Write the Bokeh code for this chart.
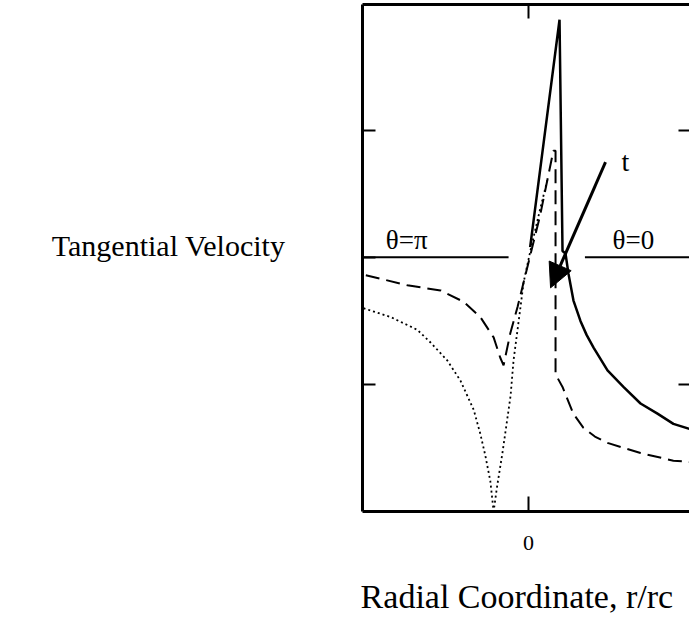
import numpy as np
from bokeh.plotting import figure
from bokeh.models import Range1d, LinearAxis, FixedTicker, Label, Arrow, NormalHead
from bokeh.embed import file_html
from bokeh.resources import INLINE

# ---- data ----
solid_x = [0.01, 0.187, 0.205, 0.223, 0.241, 0.271, 0.313, 0.35, 0.392, 0.476, 0.572, 0.675, 0.777, 0.873, 0.97]
solid_y = [0.08, 1.87, 0.05, 0.03, -0.13, -0.34, -0.50, -0.61, -0.71, -0.89, -1.02, -1.15, -1.23, -1.31, -1.35]

dash_x = [-0.98, -0.73, -0.53, -0.39, -0.29, -0.21, -0.17, -0.15, -0.11, -0.066, -0.03,
          0.07, 0.15, 0.163, 0.163, 0.205, 0.27, 0.33, 0.40, 0.476, 0.675, 0.873, 0.97]
dash_y = [-0.14, -0.22, -0.26, -0.35, -0.47, -0.63, -0.79, -0.85, -0.60, -0.39, -0.20,
          0.33, 0.84, 0.84, -0.92, -1.02, -1.23, -1.34, -1.41, -1.46, -1.54, -1.60, -1.61]

dot_x = [-0.994, -0.83, -0.67, -0.59, -0.49, -0.41, -0.33, -0.29, -0.26, -0.23, -0.21,
         -0.19, -0.157, -0.133, -0.108, -0.09, -0.066, -0.048, -0.03, 0.012, 0.072, 0.114]
dot_y = [-0.40, -0.47, -0.57, -0.67, -0.81, -0.97, -1.20, -1.39, -1.56, -1.76, -2.0,
         -1.81, -1.54, -1.32, -1.09, -0.81, -0.57, -0.39, -0.20, 0.055, 0.39, 0.61]

zero_x = [-1.0, -0.12, np.nan, 0.34, 0.97]
zero_y = [0.0, 0.0, np.nan, 0.0, 0.0]

x_ticks = [0]
x_tick_labels = {0: "0"}
y_ticks = [-1, 0, 1]
x_title = "Radial Coordinate, r/rc"
y_title = "Tangential Velocity"
x_title_pos = -0.07
y_title_pos = 0.09

FONT = "Liberation Serif"

p = figure(width=689, height=617, output_backend="svg", toolbar_location=None,
           x_range=Range1d(-1.0, 0.97), y_range=Range1d(-2.0, 1.99),
           x_axis_location=None, y_axis_location=None,
           min_border_left=362, min_border_right=0, min_border_top=4, min_border_bottom=106)
p.outline_line_color = None
p.grid.visible = False
p.background_fill_color = "white"

def mk_axis(ticks, tick_in, labels=None, size="22px", standoff=0, line=True):
    ax = LinearAxis(ticker=FixedTicker(ticks=ticks))
    ax.major_tick_in = tick_in
    ax.major_tick_out = 0
    ax.minor_tick_in = 0
    ax.minor_tick_out = 0
    ax.major_tick_line_width = 2
    ax.major_tick_line_color = "black" if tick_in > 0 else None
    ax.axis_line_width = 3
    ax.axis_line_color = "black" if line else None
    if labels is not None:
        ax.major_label_text_font = FONT
        ax.major_label_text_font_size = size
        ax.major_label_text_color = "black"
        ax.major_label_standoff = standoff
        ax.major_label_overrides = labels
    else:
        ax.major_label_text_font_size = "0px"
        ax.major_label_standoff = 0
        ax.major_label_overrides = {t: "" for t in ticks}
    return ax

p.add_layout(mk_axis(x_ticks, 15, labels=x_tick_labels, size="22px", standoff=24), "below")
p.add_layout(mk_axis([x_title_pos], 0, labels={x_title_pos: x_title}, size="34px",
                     standoff=25, line=False), "below")
p.add_layout(mk_axis(x_ticks, 14), "above")
p.add_layout(mk_axis(y_ticks, 13), "left")
yt = mk_axis([y_title_pos], 0, labels={y_title_pos: y_title}, size="30px", standoff=77, line=False)
yt.major_label_orientation = "horizontal"
p.add_layout(yt, "left")
p.add_layout(mk_axis([-1, 1], 11, line=False), "right")

p.line(zero_x, zero_y, line_color="black", line_width=2)
p.line(dot_x, dot_y, line_color="black", line_width=1.8, line_dash="2 3")
p.line(dash_x, dash_y, line_color="black", line_width=2, line_dash="14 7")
p.line(solid_x, solid_y, line_color="black", line_width=2.5)

p.add_layout(Arrow(end=NormalHead(size=24, fill_color="black", line_color="black"),
                   x_start=0.464, y_start=0.75, x_end=0.133, y_end=-0.24,
                   line_width=3, line_color="black"))

def lab(x, y, t, size, align="left"):
    p.add_layout(Label(x=x, y=y, text=t, text_font=FONT, text_font_size=size,
                       text_color="black", text_align=align, text_baseline="alphabetic"))

lab(-0.86, 0.14, "θ=π", "27px")
lab(0.506, 0.14, "θ=0", "27px")
lab(0.56, 0.756, "t", "28px")

open("out.html", "w").write(file_html(p, INLINE))
